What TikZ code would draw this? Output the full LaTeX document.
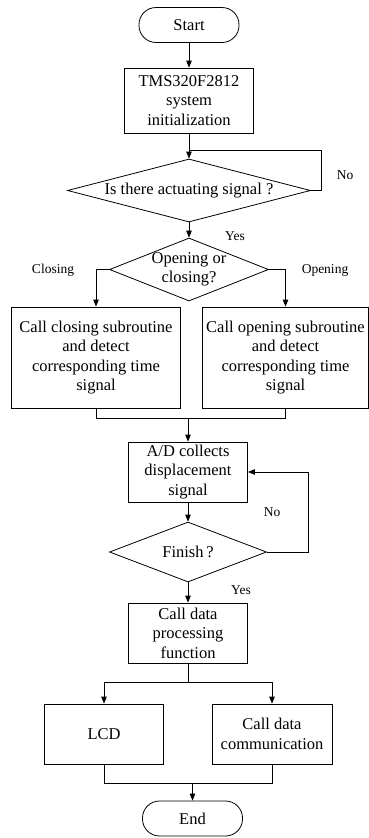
\documentclass[tikz,border=0pt]{standalone}
\usepackage{fontspec}
\setmainfont{Liberation Serif}
\usetikzlibrary{shapes.geometric,arrows.meta}
\begin{document}
\begin{tikzpicture}[x=1pt,y=-1pt,
  line width=0.8pt,
  every node/.style={font=\fontsize{16.5}{19.5}\selectfont},
  procbox/.style={draw,rectangle,inner sep=0pt,align=center},
  termbox/.style={draw,rectangle,rounded corners=17pt,inner sep=0pt,minimum width=100pt,minimum height=35pt},
  decbox/.style={draw,diamond,inner sep=0pt},
  lbl/.style={font=\fontsize{13.5}{16}\selectfont,inner sep=0pt},
  arr/.style={-{Triangle[length=7pt,width=5.5pt]}}
]
\useasboundingbox (0,0) rectangle (369,838);

\node[termbox] (start) at (189,25) {Start};
\node[procbox,minimum width=129pt,minimum height=65pt] (init) at (189,100.5) {TMS320F2812\\system\\initialization};
\node[decbox,minimum width=243pt,minimum height=63pt,label={[inner sep=0pt]center:Is there actuating signal ?}] (d1) at (189,190.5) {};
\node[decbox,minimum width=159pt,minimum height=63pt,label={[inner sep=0pt,align=center]center:Opening or\\closing?}] (d2) at (189,269.5) {};
\node[procbox,minimum width=169pt,minimum height=101pt] (lb) at (96,357.5) {Call closing subroutine\\and detect\\corresponding time\\signal};
\node[procbox,minimum width=166pt,minimum height=101pt] (rb) at (285.5,357.5) {Call opening subroutine\\and detect\\corresponding time\\signal};
\node[procbox,minimum width=119pt,minimum height=60pt] (ad) at (188,472) {A/D collects\\displacement\\signal};
\node[decbox,minimum width=157pt,minimum height=60pt,label={[inner sep=0pt]center:Finish\,?}] (d3) at (188,552) {};
\node[procbox,minimum width=119pt,minimum height=60pt] (dp) at (188,633) {Call data\\processing\\function};
\node[procbox,minimum width=119pt,minimum height=60pt] (lcd) at (104,734) {LCD};
\node[procbox,minimum width=120pt,minimum height=60pt] (com) at (272,734) {Call data\\communication};
\node[termbox] (end) at (192.5,818.5) {End};

\coordinate (j1) at (189,150);
\coordinate (r1) at (321,150);
\coordinate (m1) at (188,418);
\coordinate (r3) at (308,552);
\coordinate (s1) at (188,682);
\coordinate (m2) at (192.5,783);

\draw[arr] (start) -- (init);
\draw[arr] (init) -- (d1.north);
\draw (d1.east) -| (r1) -- (j1);
\draw[arr] (d1.south) -- (d2.north);
\draw[arr] (d2.west) -| (lb.north);
\draw[arr] (d2.east) -| (rb.north);
\draw (lb.south) |- (m1);
\draw (rb.south) |- (m1);
\draw[arr] (m1) -- (ad.north);
\draw[arr] (ad.south) -- (d3.north);
\draw[arr] (d3.east) -- (r3) |- (ad.east);
\draw[arr] (d3.south) -- (dp.north);
\draw (dp.south) -- (s1);
\draw[arr] (s1) -| (lcd.north);
\draw[arr] (s1) -| (com.north);
\draw (lcd.south) |- (m2);
\draw (com.south) |- (m2);
\draw[arr] (m2) -- (end.north);

\node[lbl] (no1) at (345,175) {No};
\node[lbl] (yes1) at (235,236) {Yes};
\node[lbl] (closing) at (53,270) {Closing};
\node[lbl] (opening) at (325,270) {Opening};
\node[lbl] (no2) at (272,512) {No};
\node[lbl] (yes2) at (241,590) {Yes};
\end{tikzpicture}
\end{document}
